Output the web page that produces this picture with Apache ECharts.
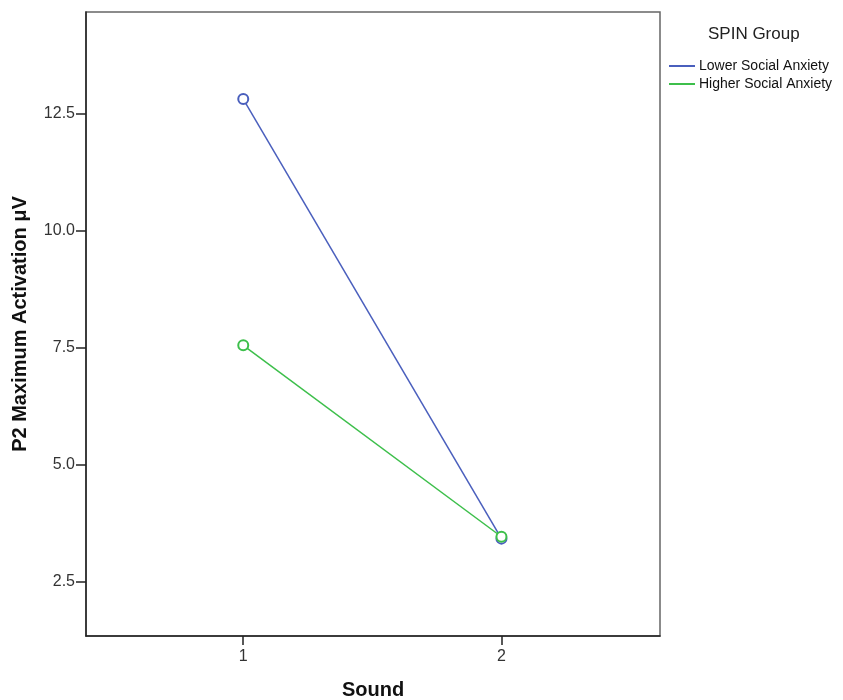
<!DOCTYPE html>
<html>
<head>
<meta charset="utf-8">
<script src="https://cdn.jsdelivr.net/npm/echarts@6/dist/echarts.min.js"></script>
<style>
html,body{margin:0;padding:0;background:#fff;}
#chart{width:843px;height:700px;}
</style>
</head>
<body>
<div id="chart"></div>
<script>
const sounds = [1, 2];
const lowerAnxiety = [12.81, 3.42];
const higherAnxiety = [7.55, 3.46];
const seriesNames = ['Lower Social Anxiety', 'Higher Social Anxiety'];
const yTicks = [2.5, 5.0, 7.5, 10.0, 12.5];
const xTicks = [1, 2];
const legendTitle = 'SPIN Group';
const xTitle = 'Sound';
const yTitle = 'P2 Maximum Activation μV';

const colors = ['#4a5fbd', '#3dbf4b'];
const FONT = 'Liberation Sans, Arial, sans-serif';

const chart = echarts.init(document.getElementById('chart'));

function mk(name, vals, color) {
  return {
    name: name,
    type: 'line',
    data: sounds.map((s, i) => [s, vals[i]]),
    symbol: 'emptyCircle',
    symbolSize: 10,
    lineStyle: { color: color, width: 1.5 },
    itemStyle: { color: color, borderColor: color, borderWidth: 1.3 },
    emphasis: { disabled: true },
    animation: false
  };
}

chart.setOption({
  animation: false,
  backgroundColor: '#fff',
  title: {
    text: legendTitle,
    left: 703,
    top: 21,
    textStyle: { fontFamily: FONT, fontSize: 17, fontWeight: 'normal', color: '#222' }
  },
  legend: {
    orient: 'vertical',
    left: 664,
    top: 54,
    itemWidth: 26,
    itemHeight: 2,
    itemGap: 4,
    icon: 'rect',
    textStyle: { fontFamily: FONT, fontSize: 14, color: '#111', lineHeight: 14, padding: [0, 0, 0, -1] },
    data: [
      { name: seriesNames[0], itemStyle: { color: colors[0], borderWidth: 0 } },
      { name: seriesNames[1], itemStyle: { color: colors[1], borderWidth: 0 } }
    ]
  },
  grid: {
    left: 86, top: 12, width: 574, height: 624,
    outerBoundsMode: 'none',
    containLabel: false,
    show: true, borderColor: '#666', borderWidth: 1.5, backgroundColor: 'transparent'
  },
  xAxis: {
    type: 'value',
    min: 0.391, max: 2.614,
    name: xTitle,
    nameLocation: 'middle',
    nameGap: 44,
    nameTextStyle: { fontFamily: FONT, fontSize: 20, fontWeight: 'bold', color: '#111' },
    axisLine: { show: true, onZero: false, lineStyle: { color: '#222', width: 1.5 } },
    axisTick: { show: true, inside: false, length: 9, customValues: xTicks, lineStyle: { color: '#222', width: 1.5 } },
    axisLabel: { customValues: xTicks, fontFamily: FONT, fontSize: 16, color: '#333', margin: 13 },
    splitLine: { show: false }
  },
  yAxis: {
    type: 'value',
    min: 1.34, max: 14.67,
    name: yTitle,
    nameLocation: 'middle',
    nameGap: 56,
    nameRotate: 90,
    nameTextStyle: { fontFamily: FONT, fontSize: 20, fontWeight: 'bold', color: '#111' },
    axisLine: { show: true, onZero: false, lineStyle: { color: '#222', width: 1.5 } },
    axisTick: { show: true, inside: false, length: 10, customValues: yTicks, lineStyle: { color: '#222', width: 1.5 } },
    axisLabel: {
      customValues: yTicks,
      formatter: v => v.toFixed(1),
      fontFamily: FONT, fontSize: 16, color: '#333', margin: 11
    },
    splitLine: { show: false }
  },
  series: [
    mk(seriesNames[0], lowerAnxiety, colors[0]),
    mk(seriesNames[1], higherAnxiety, colors[1])
  ]
});
</script>
</body>
</html>
